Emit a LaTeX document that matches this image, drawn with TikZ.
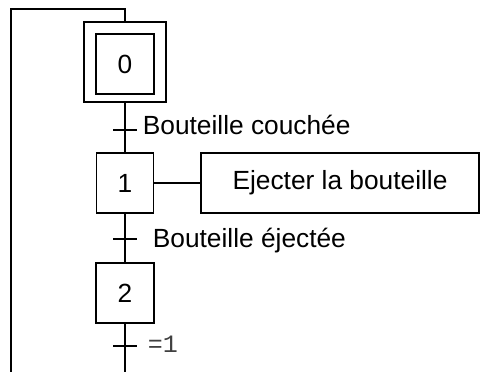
\documentclass[tikz,border=0pt]{standalone}
\usepackage{fontspec}
\setmainfont{Liberation Sans}
\newfontfamily\monofont{Liberation Mono}
\begin{document}
\begin{tikzpicture}[x=1pt,y=-1pt,
  line width=1.8pt,
  lbl/.style={font=\fontsize{26.3}{30}\selectfont, inner sep=0pt},
  stepbox/.style={draw, lbl, minimum width=58pt, minimum height=60pt},
  actbox/.style={draw, lbl, minimum width=278pt, minimum height=60pt},
  cond/.style={lbl, anchor=base west},
  tick/.style={line width=1.8pt}]
  \useasboundingbox (0,0) rectangle (480,372);
  % initial step (double frame)
  \node[stepbox] (s0) at (125,64) {0};
  \node[draw, minimum width=82pt, minimum height=80pt, inner sep=0pt] (s0o) at (125,62) {};
  % steps 1 and 2
  \node[stepbox, minimum width=57pt] (s1) at (125,183) {1};
  \node[stepbox] (s2) at (125,293) {2};
  % action attached to step 1
  \node[actbox] (a1) at (340,183) {Ejecter la bouteille};
  % transition points
  \coordinate (t1) at (125,130);
  \coordinate (t2) at (125,239);
  \coordinate (t3) at (125,346);
  \coordinate (bot) at (125,373);
  \coordinate (loopB) at (11,373);
  \coordinate (loopTL) at (11,9);
  \coordinate (loopTR) at (125,9);
  % links
  \draw (s0o.south) -- (s1.north);
  \draw (s1.south) -- (s2.north);
  \draw (s2.south) -- (bot);
  \draw (s1.east) -- (a1.west);
  \draw (loopB) -- (loopTL) -- (loopTR) -- (s0o.north);
  % transition bars
  \draw[tick] ([xshift=-12pt]t1) -- ([xshift=12pt]t1);
  \draw[tick] ([xshift=-12pt]t2) -- ([xshift=12pt]t2);
  \draw[tick] ([xshift=-12pt]t3) -- ([xshift=12pt]t3);
  % receptivities
  \node[cond] (c1) at (142,134) {Bouteille couchée};
  \node[cond] (c2) at (152,247) {Bouteille éjectée};
  \node[cond, font=\monofont\fontsize{25}{30}\selectfont, text=black!75] (c3) at (147,352) {=1};
\end{tikzpicture}
\end{document}
